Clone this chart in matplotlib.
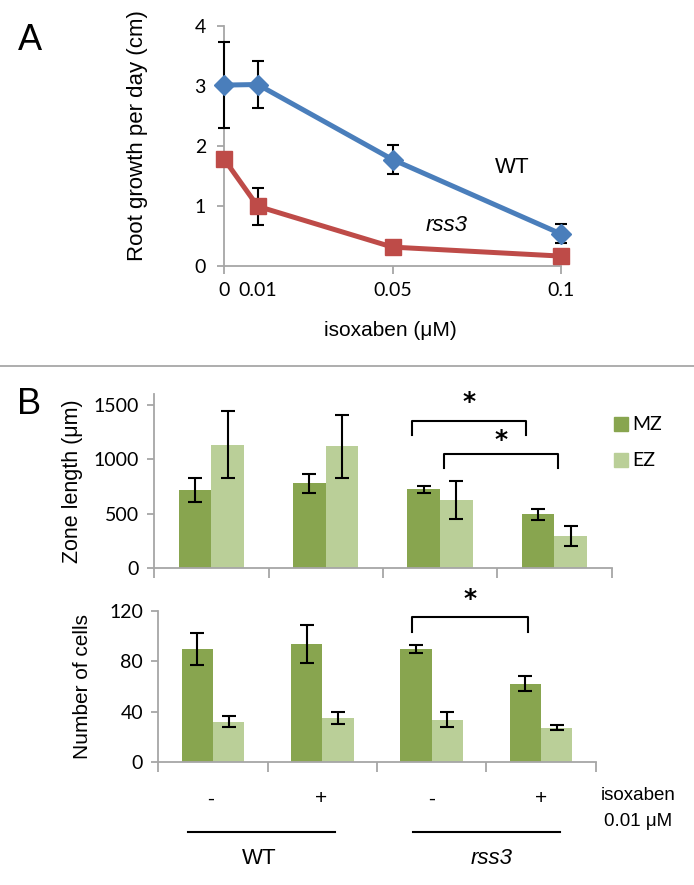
import matplotlib
matplotlib.use("Agg")
import matplotlib.pyplot as plt
from matplotlib.lines import Line2D
from matplotlib.patches import Rectangle
import numpy as np

# ---------------- data ----------------
conc = [0, 0.01, 0.05, 0.1]
wt_growth = [3.01, 3.02, 1.77, 0.53]
wt_err = [0.72, 0.39, 0.25, 0.16]
rss3_growth = [1.78, 0.99, 0.31, 0.16]
rss3_err = [0.0, 0.31, 0.0, 0.0]

groups = ["WT -", "WT +", "rss3 -", "rss3 +"]
zone_mz = [717, 779, 724, 493]
zone_mz_err = [112, 88, 31, 51]
zone_ez = [1137, 1121, 625, 296]
zone_ez_err = [306, 293, 177, 93]

cells_mz = [90.1, 93.8, 89.9, 62.4]
cells_mz_err = [12.7, 15.0, 3.5, 6.2]
cells_ez = [32.2, 35.2, 33.8, 27.5]
cells_ez_err = [4.2, 5.0, 6.0, 1.7]

treat_labels = ["-", "+", "-", "+"]

# ---------------- style ----------------
BLUE = "#4A7EBB"
RED = "#BE4B48"
MZC = "#88A54F"
EZC = "#BACF98"
GRAY = "#A6A6A6"
TICKFONT = "Lato"
LABFONT = "Liberation Sans"

fig = plt.figure(figsize=(6.94, 8.85), dpi=100)
W, H = 694, 885


def px_axes(left, top, right, bottom):
    return fig.add_axes([left / W, 1 - bottom / H, (right - left) / W, (bottom - top) / H])


def style_axes(ax):
    for s in ["top", "right"]:
        ax.spines[s].set_visible(False)
    for s in ["left", "bottom"]:
        ax.spines[s].set_color(GRAY)
        ax.spines[s].set_linewidth(1.3)
    ax.tick_params(colors=GRAY, width=1.3, labelcolor="black")
    for lab in ax.get_yticklabels() + ax.get_xticklabels():
        lab.set_fontfamily(TICKFONT)


# ---------------- Panel A ----------------
axA = px_axes(224, 25.7, 561, 265.7)
axA.set_xlim(0, 0.1)
axA.set_ylim(0, 4)
axA.errorbar(conc, wt_growth, yerr=wt_err, color=BLUE, lw=3.6, marker="D", ms=10,
             ecolor="black", elinewidth=1.5, capsize=4, capthick=1.5, clip_on=False, zorder=3)
axA.errorbar(conc, rss3_growth, yerr=rss3_err, color=RED, lw=3.6,
             marker="s", ms=11, ecolor="black", elinewidth=1.5, capsize=4, capthick=1.5,
             clip_on=False, zorder=3)
axA.set_xticks([0, 0.05, 0.1])
axA.set_xticklabels(["0", "0.05", "0.1"])
axA.set_xticks([0.01], minor=True)
axA.set_xticklabels(["0.01"], minor=True)
axA.tick_params(axis="x", which="minor", length=0, pad=12)
axA.tick_params(axis="x", which="major", length=6, pad=6, direction="out")
axA.set_yticks([0, 1, 2, 3, 4])
axA.tick_params(axis="y", length=5, pad=8)
style_axes(axA)
for lab in axA.get_xticklabels(minor=True):
    lab.set_fontfamily(TICKFONT)
for lab in axA.get_xticklabels() + axA.get_xticklabels(minor=True) + axA.get_yticklabels():
    lab.set_fontsize(14)
axA.text(0.0855, 1.63, "WT", fontsize=16, family=LABFONT, ha="center", va="center")
axA.text(0.066, 0.67, "rss3", fontsize=16, family=LABFONT, style="italic", ha="center", va="center")
fig.text(138 / W, 1 - 136 / H, "Root growth per day (cm)", rotation=90, fontsize=16,
         family=LABFONT, ha="center", va="center")
fig.text(390 / W, 1 - 330 / H, "isoxaben (\u03bcM)", fontsize=15, family=LABFONT,
         ha="center", va="center")
fig.text(30 / W, 1 - 40 / H, "A", fontsize=26, family=LABFONT, ha="center", va="center")

# separator
fig.add_artist(Line2D([0, 1], [1 - 366 / H, 1 - 366 / H], color="#A0A0A0", lw=1.2))

# ---------------- Panel B ----------------
x = np.arange(len(groups))
bw = 0.286


def bar_axes(ax, mz, mze, ez, eze):
    ax.bar(x - bw / 2, mz, bw, color=MZC, zorder=2)
    ax.bar(x + bw / 2, ez, bw, color=EZC, zorder=2)
    ax.errorbar(x - bw / 2, mz, yerr=mze, fmt="none", ecolor="black", elinewidth=1.5,
                capsize=5, capthick=1.5, zorder=3)
    ax.errorbar(x + bw / 2, ez, yerr=eze, fmt="none", ecolor="black", elinewidth=1.5,
                capsize=5, capthick=1.5, zorder=3)
    ax.set_xlim(-0.5, len(groups) - 0.5)
    ax.set_xticks(np.arange(-0.5, len(groups), 1.0))
    ax.set_xticklabels([])
    ax.tick_params(axis="x", length=7, direction="out")
    ax.tick_params(axis="y", length=5, pad=6)
    style_axes(ax)
    for lab in ax.get_yticklabels():
        lab.set_fontsize(14)


def bracket(ax, x0, x1, y, ylow, ystar):
    ax.plot([x0, x0, x1, x1], [ylow, y, y, ylow], color="black", lw=1.5, clip_on=False,
            solid_joinstyle="round")
    ax.text((x0 + x1) / 2, ystar, "*", fontsize=18, ha="center", va="center",
            family="DejaVu Sans", fontweight="bold")


axB1 = px_axes(154.3, 567.7 - 1600 / 1500 * 162.4, 611.5, 567.7)
axB1.set_ylim(0, 1600)
axB1.set_yticks([0, 500, 1000, 1500])
bar_axes(axB1, zone_mz, zone_mz_err, zone_ez, zone_ez_err)
bracket(axB1, 1.752, 2.752, 1352, 1226, 1530)
bracket(axB1, 2.036, 3.036, 1047, 918, 1175)
axB1.set_ylabel("Zone length (\u03bcm)", fontsize=15.5, family=LABFONT, labelpad=8)

axB2 = px_axes(158.3, 611, 595.6, 762.3)
axB2.set_ylim(0, 120)
axB2.set_yticks([0, 40, 80, 120])
bar_axes(axB2, cells_mz, cells_mz_err, cells_ez, cells_ez_err)
bracket(axB2, 1.817, 2.882, 115, 103.6, 129.5)
axB2.set_ylabel("Number of cells", fontsize=15, family=LABFONT, labelpad=12)

fig.text(29 / W, 1 - 405 / H, "B", fontsize=26, family=LABFONT, ha="center", va="center")

# legend
for yy, col, lab in [(424, MZC, "MZ"), (460, EZC, "EZ")]:
    fig.add_artist(Rectangle((614 / W, 1 - (yy + 7) / H), 14 / W, 14 / H, color=col,
                             transform=fig.transFigure))
    fig.text(632 / W, 1 - yy / H, lab, fontsize=14, family=TICKFONT, ha="left", va="center")

# treatment labels
for xi, t in zip([211, 321, 432, 541], treat_labels):
    fig.text(xi / W, 1 - 799 / H, t, fontsize=15, family=LABFONT, ha="center", va="center")
fig.text(638 / W, 1 - 795 / H, "isoxaben", fontsize=13.5, family=LABFONT, ha="center", va="center")
fig.text(638 / W, 1 - 822 / H, "0.01 \u03bcM", fontsize=13.5, family=LABFONT, ha="center", va="center")

for x0, x1 in [(188, 335), (413, 560)]:
    fig.add_artist(Line2D([x0 / W, x1 / W], [1 - 832 / H, 1 - 832 / H], color="black", lw=1.5))
fig.text(259 / W, 1 - 858 / H, "WT", fontsize=16, family=LABFONT, ha="center", va="center")
fig.text(492 / W, 1 - 858 / H, "rss3", fontsize=16, family=LABFONT, style="italic",
         ha="center", va="center")

fig.savefig("out.png", dpi=100)
